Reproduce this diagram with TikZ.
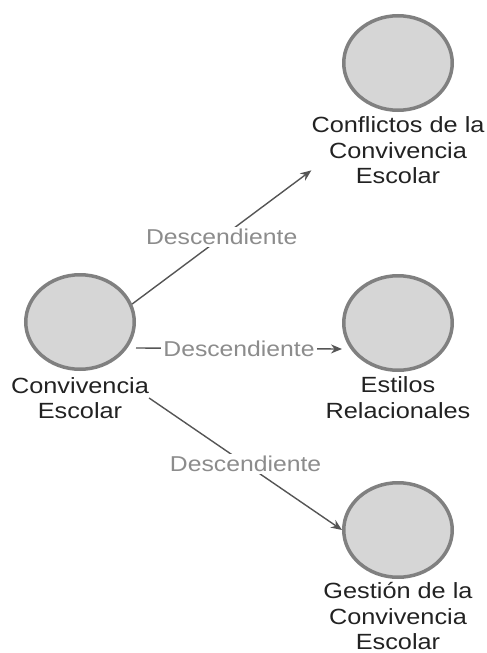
\documentclass[tikz,border=0pt]{standalone}
\usepackage{fontspec}
\setmainfont[FakeStretch=1.15]{Liberation Sans}
\usetikzlibrary{arrows.meta,shapes.geometric}
\definecolor{ringgray}{HTML}{808080}
\definecolor{fillgray}{HTML}{D6D6D6}
\definecolor{edgegray}{HTML}{555555}
\definecolor{lblgray}{HTML}{8C8C8C}
\definecolor{txtdark}{HTML}{222222}
\begin{document}
\begin{tikzpicture}[x=1pt,y=-1pt,
  concept/.style={ellipse, draw=ringgray, line width=3.5pt, fill=fillgray,
    minimum width=108.5pt, minimum height=94.5pt, inner sep=0pt},
  conceptlabel/.style={align=center, inner sep=0pt, text=txtdark,
    font=\fontsize{22}{25.5}\selectfont},
  link/.style={draw=edgegray, line width=1.4pt, -{Stealth[length=11pt,width=9pt]}},
  linklabel/.style={midway, fill=white, inner sep=2pt, text=lblgray,
    font=\fontsize{21.5}{24}\selectfont}]
\useasboundingbox (0,0) rectangle (487,653);

\node[concept] (c0) at (80,322) {};
\node[concept] (c1) at (398,63) {};
\node[concept] (c2) at (398,323) {};
\node[concept] (c3) at (398,530) {};

\node[conceptlabel] (l0) at (80,398) {Convivencia\\Escolar};
\node[conceptlabel] (l1) at (398,150.4) {Conflictos de la\\Convivencia\\Escolar};
\node[conceptlabel] (l2) at (398,397.5) {Estilos\\Relacionales};
\node[conceptlabel] (l3) at (398,616) {Gestión de la\\Convivencia\\Escolar};

\draw[link] (c0.19) -- node[linklabel] (e1) {Descendiente} ([yshift=-20pt]l1.west);
\draw[link] ([yshift=-26pt]c0.east) -- node[linklabel] (e2) {Descendiente} ([yshift=-26pt]c2.west);
\draw[link] (l0.east) -- node[linklabel] (e3) {Descendiente} (c3.west);
\end{tikzpicture}
\end{document}
